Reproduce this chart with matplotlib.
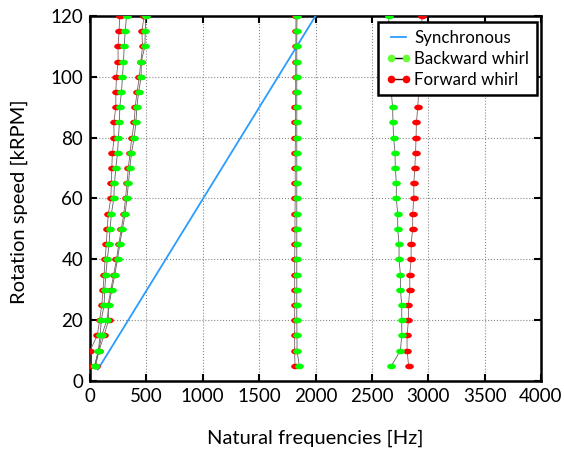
import numpy as np
import matplotlib
matplotlib.use("Agg")
import matplotlib.pyplot as plt
from matplotlib.path import Path
from matplotlib.lines import Line2D

plt.rcParams['font.family'] = ['Lato', 'DejaVu Sans']

speed = [5, 10, 15, 20, 25, 30, 35, 40, 45, 50, 55, 60,
         65, 70, 75, 80, 85, 90, 95, 100, 105, 110, 115, 120]

# mode 1
fw1 = [0, 0, 65, 85, 104, 116, 125, 134, 145, 152, 163, 184,
       190, 193, 199, 214, 211, 229, 229, 235, 249, 249, 258, 264]
bw1 = [40, 74, 90, 100, 125, 131, 140, 154, 169, 178, 190, 211,
       217, 229, 244, 252, 261, 264, 279, 288, 297, 303, 312, 324]
# mode 2
bw2 = [45, 76, 104, 150, 169, 193, 220, 244, 264, 288, 312, 327,
       341, 353, 368, 392, 407, 416, 431, 454, 454, 487, 490, 496]
fw2 = [50, 80, 125, 165, 160, 185, 210, 235, 255, 278, 300, 315,
       328, 340, 355, 371, 392, 400, 418, 437, 451, 466, 460, 480]
# mode 3
bw3 = [1856, 1836, 1836, 1834, 1834, 1834, 1834, 1834, 1834, 1834, 1834, 1834,
       1834, 1834, 1834, 1834, 1834, 1834, 1834, 1834, 1834, 1834, 1834, 1836]
fw3 = [1818, 1815, 1815, 1815, 1815, 1815, 1815, 1815, 1817, 1818, 1818, 1820,
       1820, 1820, 1820, 1822, 1822, 1822, 1824, 1824, 1824, 1826, 1826, 1827]
# modes 4 / 5
bw4 = [2673, 2753, 2765, 2765, 2765, 2753, 2753, 2741, 2741, 2729, 2729, 2717,
       2717, 2708, 2705, 2693, 2687, 2684, 2672, 2667, 2660, 2655, 2652, 2649]
fw5 = [2826, 2812, 2812, 2824, 2824, 2836, 2836, 2848, 2848, 2862, 2862, 2872,
       2872, 2881, 2887, 2892, 2895, 2907, 2915, 2922, 2928, 2935, 2940, 2945]

sync_speed = [3.8, 120]
sync_freq = [70, 2000]

xticks = [0, 500, 1000, 1500, 2000, 2500, 3000, 3500, 4000]
yticks = [0, 20, 40, 60, 80, 100, 120]

t = np.linspace(0, 2 * np.pi, 40)
ell = Path(np.column_stack([1.7 * np.cos(t), np.sin(t)]), closed=True)

fig = plt.figure(figsize=(5.64, 4.57), dpi=100)
ax = fig.add_axes([90 / 564, 1 - 381 / 457, 451 / 564, 365 / 457])

GREEN = '#00ff00'
RED = '#ff0000'
ms = 5.2
ax.plot(sync_freq, sync_speed, color='#2b9cff', lw=1.3, zorder=3)
for fw, bw in [(fw1, bw1), (fw2, bw2), (fw3, bw3), (fw5, bw4)]:
    ax.plot(fw, speed, color='#806060', lw=0.6, marker=ell, ms=ms, mfc=RED, mec=RED, zorder=4)
    ax.plot(bw, speed, color='#606060', lw=0.6, marker=ell, ms=ms, mfc=GREEN, mec=GREEN, zorder=5)

ax.set_xlim(0, 4000)
ax.set_ylim(0, 120)
ax.set_xticks(xticks)
ax.set_yticks(yticks)
ax.grid(True, linestyle=':', color='#888888', lw=0.8)
ax.tick_params(direction='in', length=5, width=1.5, top=True, right=True,
               labelsize=13.5, pad=5)
for s in ax.spines.values():
    s.set_linewidth(1.8)

ax.set_xlabel('Natural frequencies [Hz]', fontsize=14.5)
ax.xaxis.set_label_coords(0.5, -(430 - 381) / 365)
ax.set_ylabel('Rotation speed [kRPM]', fontsize=14.5)
ax.yaxis.set_label_coords(-(90 - 28) / 451, 0.49)

hs = Line2D([], [], color='#2b9cff', lw=1.3)
hb = Line2D([], [], color='k', lw=1, marker='o', ms=4.5, mfc='#66ff33', mec='#66ff33')
hf = Line2D([], [], color='#600000', lw=1, marker='o', ms=4.5, mfc=RED, mec=RED)
leg = ax.legend([hs, hb, hf], ['Synchronous', 'Backward whirl', 'Forward whirl'],
                loc='upper right', bbox_to_anchor=((537 - 90) / 451, 1 - 6 / 365),
                bbox_transform=ax.transAxes, fancybox=False, framealpha=1,
                edgecolor='k', fontsize=12.2, handlelength=1.5, handletextpad=0.2,
                borderpad=0.45, labelspacing=0.3, borderaxespad=0, numpoints=2)
leg.get_frame().set_linewidth(1.8)
leg.set_zorder(10)

fig.savefig('out.png', dpi=100)
